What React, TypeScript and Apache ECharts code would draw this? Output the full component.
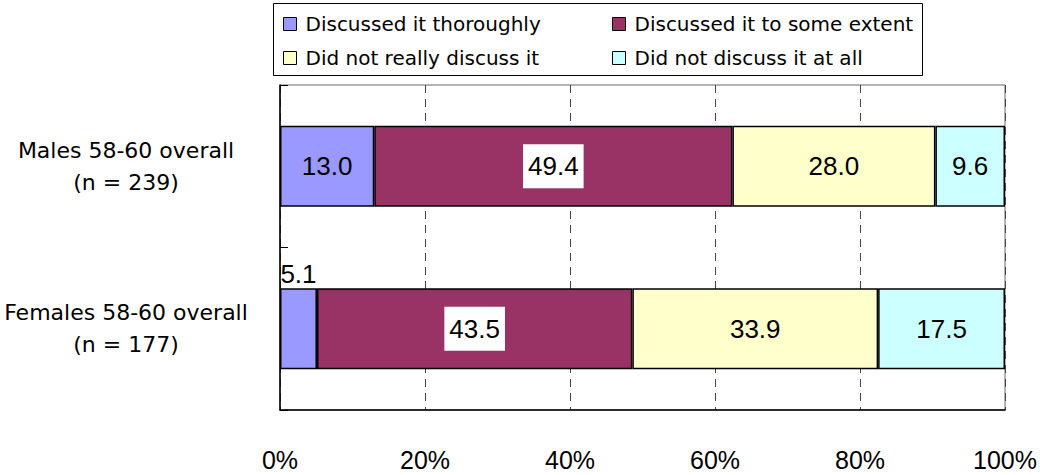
import React, { useEffect, useRef } from "react";
import * as echarts from "echarts";

const categories = ["Males 58-60 overall\n(n = 239)", "Females 58-60 overall\n(n = 177)"];
const seriesNames = [
  "Discussed it thoroughly",
  "Discussed it to some extent",
  "Did not really discuss it",
  "Did not discuss it at all",
];
const thorough = [13.0, 5.1];
const someExtent = [49.4, 43.5];
const notReally = [28.0, 33.9];
const notAtAll = [9.6, 17.5];
const colors = ["#9999FF", "#993366", "#FFFFCC", "#CCFFFF"];
const xTicks = [0, 20, 40, 60, 80, 100];

export default function App() {
  const ref = useRef<HTMLDivElement>(null);
  useEffect(() => {
    if (!ref.current) return;
    const chart = echarts.init(ref.current, null, { renderer: "svg" });
    const values = [thorough, someExtent, notReally, notAtAll];
    const labelBase = {
      show: true,
      color: "#000",
      fontSize: 26,
      fontFamily: "Liberation Sans, Arial, sans-serif",
      formatter: (p: any) => p.value.toFixed(1),
    };
    const series = seriesNames.map((name, i) => ({
      name,
      type: "bar",
      stack: "total",
      barWidth: 81,
      itemStyle: { color: colors[i], borderColor: "#000", borderWidth: 1.5 },
      data: values[i].map((v, j) => {
        const d: any = { value: v };
        if (i === 0 && j === 1) {
          d.label = { position: "top", distance: 1 };
        }
        return d;
      }),
      label:
        i === 1
          ? { ...labelBase, position: "inside", backgroundColor: "#fff", padding: [10, 5, 8, 5] }
          : { ...labelBase, position: "inside" },
    }));
    const legendCommon = {
      orient: "vertical",
      top: 14,
      padding: 0,
      itemWidth: 13,
      itemHeight: 13,
      itemGap: 14,
      icon: "rect",
      textStyle: {
        fontSize: 20,
        color: "#000",
        fontFamily: "DejaVu Sans, sans-serif",
        padding: [0, 0, 0, 4],
      },
    };
    const legendItem = (n: string) => ({
      name: n,
      itemStyle: { borderColor: "#000", borderWidth: 1 },
    });
    chart.setOption({
      animation: false,
      legend: [
        { ...legendCommon, left: 283, data: [seriesNames[0], seriesNames[2]].map(legendItem) },
        { ...legendCommon, left: 612, data: [seriesNames[1], seriesNames[3]].map(legendItem) },
      ],
      graphic: [
        {
          type: "rect",
          shape: { x: 273.5, y: 3.5, width: 649, height: 72 },
          style: { fill: "none", stroke: "#000", lineWidth: 1 },
          silent: true,
        },
      ],
      grid: {
        left: 280,
        right: 35,
        top: 85,
        bottom: 65,
        show: true,
        borderColor: "#666",
        borderWidth: 1,
      },
      xAxis: {
        type: "value",
        min: 0,
        max: 100,
        interval: 20,
        axisLine: { show: true, lineStyle: { color: "#000", width: 1.5 } },
        axisTick: { show: false },
        splitLine: { show: true, lineStyle: { color: "#444", type: [8, 6], width: 1 } },
        axisLabel: {
          formatter: (v: number) => (xTicks.includes(v) ? v + "%" : ""),
          fontSize: 25,
          color: "#000",
          margin: 37,
          fontFamily: "Liberation Sans Narrow, Liberation Sans, sans-serif",
        },
      },
      yAxis: {
        type: "category",
        data: categories,
        inverse: true,
        axisLine: { show: true, lineStyle: { color: "#000", width: 1.5 } },
        axisTick: { show: true, inside: true, length: 8, lineStyle: { color: "#000" } },
        axisLabel: {
          align: "center",
          margin: 154,
          fontSize: 22,
          lineHeight: 32,
          color: "#000",
          fontFamily: "DejaVu Sans, sans-serif",
        },
      },
      series,
    });
    return () => chart.dispose();
  }, []);
  return (
    <div
      ref={ref}
      style={{ position: "absolute", left: 0, top: 0, width: 1040, height: 475 }}
    />
  );
}
